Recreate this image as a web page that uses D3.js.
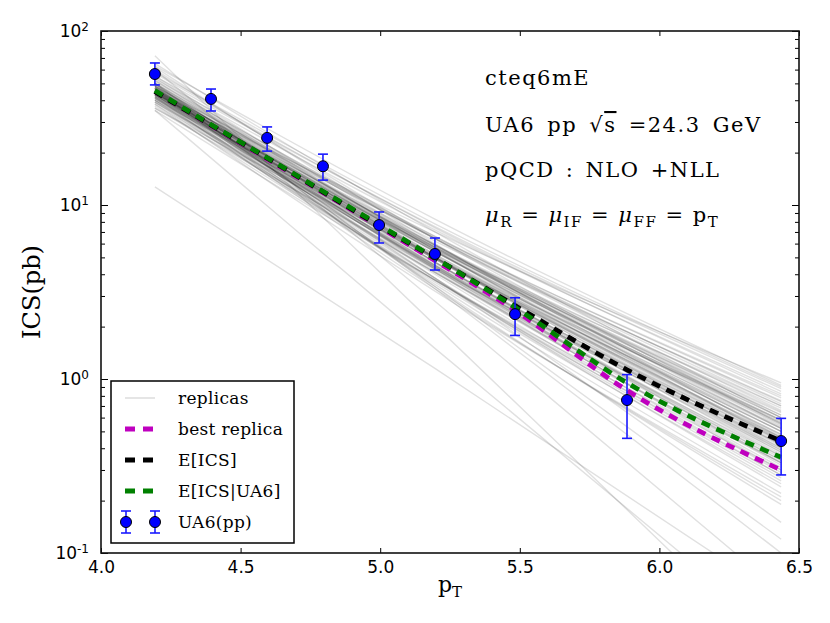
<!DOCTYPE html>
<html>
<head>
<meta charset="utf-8">
<title>ICS vs pT</title>
<script src="https://cdn.jsdelivr.net/npm/d3@7"></script>
<style>
	body, html {
		margin: 0;
		padding: 0;
		background: #fff;
	}
	.tick text, .ylab {
		font-family: "DejaVu Sans", sans-serif;
		font-size: 17px;
		fill: #000;
	}
	.serif {
		font-family: "DejaVu Serif", serif;
		fill: #000;
	}
</style>
</head>
<body>
<svg id="Chart"></svg>
<script>
	var W = 830, H = 623;
	var margin = {top: 31, right: 31, bottom: 70, left: 101};

	// UA6 pp points and error bars
	var ptX  = [4.193, 4.394, 4.595, 4.795, 4.996, 5.196, 5.483, 5.884, 6.436];
	var ua6  = [56.6, 40.7, 24.3, 16.7, 7.67, 5.23, 2.36, 0.757, 0.44];
	var ua6Hi = [65.5, 46.4, 28.1, 19.6, 9.12, 6.46, 2.93, 1.06, 0.594];
	var ua6Lo = [49.0, 34.7, 20.4, 13.9, 6.05, 4.23, 1.78, 0.456, 0.281];

	// theory curves on the same pT points
	var bestReplica = [45.0, 28.7, 18.4, 11.8, 7.5, 4.8, 2.48, 0.86, 0.30];
	var eICS        = [44.8, 28.8, 18.6, 11.9, 7.6, 4.95, 2.64, 1.13, 0.44];
	var eICSua6     = [45.5, 29.0, 18.7, 12.0, 7.7, 4.95, 2.58, 0.95, 0.355];

	// replicas: value at pT = 4.19, 5.20, 6.44
	var repX = [4.193, 5.196, 6.436];
	var replicas = [
		[46, 4.9, 0.42], [44, 4.9, 0.45], [48, 5.4, 0.50], [42, 4.4, 0.38],
		[50, 5.9, 0.58], [45, 5.5, 0.55], [40, 4.4, 0.40], [52, 5.5, 0.47],
		[43, 4.3, 0.34], [47, 5.9, 0.62], [39, 4.5, 0.44], [55, 5.9, 0.52],
		[41, 5.0, 0.50], [49, 4.7, 0.36], [44, 5.9, 0.68], [46, 4.2, 0.30],
		[38, 4.1, 0.36], [51, 6.6, 0.72], [45, 4.0, 0.28], [43, 5.4, 0.56],
		[60, 6.4, 0.55], [36, 4.3, 0.42], [48, 6.6, 0.78], [42, 3.8, 0.27],
		[47, 5.2, 0.48], [53, 7.2, 0.85], [40, 3.6, 0.25], [44, 5.6, 0.60],
		[49, 5.0, 0.40], [37, 3.7, 0.30], [58, 7.8, 0.90], [45, 4.4, 0.35],
		[41, 5.6, 0.64], [50, 4.5, 0.32], [43, 3.5, 0.22], [46, 6.5, 0.80],
		[39, 4.9, 0.52], [54, 5.5, 0.44], [35, 3.7, 0.33], [47, 3.8, 0.24],
		[44, 6.2, 0.75], [52, 6.4, 0.66], [42, 3.3, 0.20], [48, 4.3, 0.29],
		[40, 5.7, 0.70], [65, 7.0, 0.60], [45, 7.0, 0.95], [38, 3.2, 0.21],
		[43, 4.5, 0.39], [50, 5.7, 0.54], [62, 6.0, 0.46], [36, 5.0, 0.58],
		[46, 3.4, 0.19], [41, 3.7, 0.26],
		[45, 5.0, 0.46], [44, 4.7, 0.41], [46, 5.4, 0.52], [43, 5.0, 0.48],
		[47, 5.0, 0.43], [45, 4.7, 0.39], [44, 5.1, 0.50], [46, 5.6, 0.57],
		[42, 4.9, 0.46], [48, 5.1, 0.45], [45, 4.5, 0.37], [43, 5.2, 0.53],
		[47, 5.8, 0.60], [44, 4.3, 0.33], [46, 5.0, 0.44], [41, 4.6, 0.42],
		[49, 5.7, 0.56], [45, 5.8, 0.65], [43, 4.1, 0.31], [47, 4.7, 0.38],
		[50, 6.4, 0.70], [44, 5.7, 0.62], [46, 4.4, 0.34], [42, 5.4, 0.58],
		[48, 6.4, 0.74], [57, 7.4, 0.82], [63, 8.3, 0.92], [55, 7.5, 0.88],
		[40, 4.1, 0.33], [39, 3.7, 0.28],
		[12.7, 1.15, 0.055], [35, 1.5, 0.033], [72, 2.04, 0.025], [60, 2.8, 0.06],
		[50, 3.3, 0.10], [44, 3.8, 0.15], [48, 3.4, 0.12]
	];

	var xTicks = [4.0, 4.5, 5.0, 5.5, 6.0, 6.5];
	var yMajor = [0.1, 1, 10, 100];
	var yExp = ["-1", "0", "1", "2"];
	var yMinor = [];
	[0.1, 1, 10].forEach(function(dec) {
		for (var k = 2; k <= 9; k++) yMinor.push(dec * k);
	});

	var svg = d3.select("#Chart").attr("width", W).attr("height", H);

	var x = d3.scaleLinear().domain([4, 6.5]).range([margin.left, W - margin.right]);
	var y = d3.scaleLog().domain([0.1, 100]).range([H - margin.bottom, margin.top]);

	svg.append("clipPath").attr("id", "plotClip")
		.append("rect")
		.attr("x", margin.left).attr("y", margin.top)
		.attr("width", W - margin.left - margin.right)
		.attr("height", H - margin.top - margin.bottom);

	var plot = svg.append("g").attr("clip-path", "url(#plotClip)");

	var repLine = d3.line()
		.x(function(d, i) { return x(repX[i]); })
		.y(function(d) { return y(d); })
		.curve(d3.curveMonotoneX);

	plot.selectAll(".replica")
		.data(replicas)
	  .enter().append("path")
		.attr("class", "replica")
		.attr("d", repLine)
		.attr("fill", "none")
		.attr("stroke", "#000")
		.attr("stroke-opacity", 0.12)
		.attr("stroke-width", 1.4);

	var curveLine = d3.line()
		.x(function(d, i) { return x(ptX[i]); })
		.y(function(d) { return y(d); })
		.curve(d3.curveMonotoneX);

	var curves = [
		{vals: bestReplica, color: "#bf00bf"},
		{vals: eICS, color: "#000000"},
		{vals: eICSua6, color: "#008000"}
	];
	curves.forEach(function(c) {
		plot.append("path")
			.attr("d", curveLine(c.vals))
			.attr("fill", "none")
			.attr("stroke", c.color)
			.attr("stroke-width", 4.8)
			.attr("stroke-dasharray", "9,7");
	});

	// error bars + markers
	var pts = ptX.map(function(v, i) {
		return {x: v, y: ua6[i], hi: ua6Hi[i], lo: ua6Lo[i]};
	});
	var eb = plot.selectAll(".eb").data(pts).enter().append("g").attr("class", "eb");
	eb.append("line")
		.attr("x1", function(d) { return x(d.x); })
		.attr("x2", function(d) { return x(d.x); })
		.attr("y1", function(d) { return y(d.hi); })
		.attr("y2", function(d) { return y(d.lo); });
	eb.append("line")
		.attr("x1", function(d) { return x(d.x) - 5; })
		.attr("x2", function(d) { return x(d.x) + 5; })
		.attr("y1", function(d) { return y(d.hi); })
		.attr("y2", function(d) { return y(d.hi); });
	eb.append("line")
		.attr("x1", function(d) { return x(d.x) - 5; })
		.attr("x2", function(d) { return x(d.x) + 5; })
		.attr("y1", function(d) { return y(d.lo); })
		.attr("y2", function(d) { return y(d.lo); });
	eb.selectAll("line").attr("stroke", "#1a1aff").attr("stroke-width", 1.6);
	eb.append("circle")
		.attr("cx", function(d) { return x(d.x); })
		.attr("cy", function(d) { return y(d.y); })
		.attr("r", 5.5)
		.attr("fill", "#0000ff")
		.attr("stroke", "#000")
		.attr("stroke-width", 1);

	// axes, ticks pointing inwards on all four sides
	var x0 = H - margin.bottom, y0 = margin.left;
	svg.append("g").attr("transform", "translate(0," + x0 + ")")
		.call(d3.axisBottom(x).tickValues(xTicks).tickFormat(d3.format(".1f"))
			.tickSizeInner(-5).tickSizeOuter(0).tickPadding(8))
		.call(function(g) { g.select(".domain").remove(); });
	svg.append("g").attr("transform", "translate(0," + margin.top + ")")
		.call(d3.axisTop(x).tickValues(xTicks).tickFormat("")
			.tickSizeInner(-5).tickSizeOuter(0))
		.call(function(g) { g.select(".domain").remove(); });

	svg.append("g").attr("transform", "translate(" + y0 + ",0)")
		.call(d3.axisLeft(y).tickValues(yMajor).tickFormat("").tickSizeInner(-7).tickSizeOuter(0))
		.call(function(g) { g.select(".domain").remove(); });
	svg.append("g").attr("transform", "translate(" + y0 + ",0)")
		.call(d3.axisLeft(y).tickValues(yMinor).tickFormat("").tickSizeInner(-4).tickSizeOuter(0))
		.call(function(g) { g.select(".domain").remove(); });
	svg.append("g").attr("transform", "translate(" + (W - margin.right) + ",0)")
		.call(d3.axisRight(y).tickValues(yMajor).tickFormat("").tickSizeInner(-7).tickSizeOuter(0))
		.call(function(g) { g.select(".domain").remove(); });
	svg.append("g").attr("transform", "translate(" + (W - margin.right) + ",0)")
		.call(d3.axisRight(y).tickValues(yMinor).tickFormat("").tickSizeInner(-4).tickSizeOuter(0))
		.call(function(g) { g.select(".domain").remove(); });
	svg.selectAll(".tick line").attr("stroke", "#000").attr("stroke-width", 1);

	yMajor.forEach(function(v, i) {
		var t = svg.append("text").attr("class", "ylab")
			.attr("x", margin.left - 12).attr("y", y(v))
			.attr("dy", "0.35em").attr("text-anchor", "end");
		t.append("tspan").text("10");
		t.append("tspan").attr("dy", "-0.5em").attr("font-size", "12px").text(yExp[i]);
	});

	svg.append("rect")
		.attr("x", margin.left).attr("y", margin.top)
		.attr("width", W - margin.left - margin.right)
		.attr("height", H - margin.top - margin.bottom)
		.attr("fill", "none").attr("stroke", "#111").attr("stroke-width", 1.6);

	// axis titles
	svg.append("text").attr("class", "serif")
		.attr("transform", "translate(40," + ((margin.top + x0) / 2) + ") rotate(-90)")
		.attr("text-anchor", "middle")
		.attr("font-size", "24px")
		.text("ICS(pb)");
	var xl = svg.append("text").attr("class", "serif")
		.attr("x", (margin.left + W - margin.right) / 2).attr("y", 592)
		.attr("text-anchor", "middle").attr("font-size", "22px");
	xl.append("tspan").text("p");
	xl.append("tspan").attr("dy", 5).attr("font-size", "15px").text("T");

	// annotation text
	var ann = svg.append("g").attr("class", "serif").attr("font-size", "21px")
		.attr("letter-spacing", "1.5px");
	ann.append("text").attr("x", 485).attr("y", 85).text("cteq6mE");
	var t2 = ann.append("text").attr("x", 485).attr("y", 132).attr("word-spacing", "4px");
	t2.append("tspan").text("UA6 pp \u221A");
	t2.append("tspan").style("text-decoration", "overline").text("s");
	t2.append("tspan").text(" =24.3 GeV");
	ann.append("text").attr("x", 485).attr("y", 177).attr("word-spacing", "3px")
		.text("pQCD : NLO +NLL");
	var t4 = ann.append("text").attr("x", 485).attr("y", 222);
	var subs = ["R", "IF", "FF"];
	subs.forEach(function(s, i) {
		t4.append("tspan").attr("font-style", "italic").text("\u03BC");
		t4.append("tspan").attr("dy", 5).attr("font-size", "15px").text(s);
		t4.append("tspan").attr("dy", -5).text(" = ");
	});
	t4.append("tspan").text("p");
	t4.append("tspan").attr("dy", 5).attr("font-size", "15px").text("T");

	// legend
	var lg = svg.append("g");
	lg.append("rect")
		.attr("x", 111).attr("y", 381).attr("width", 183).attr("height", 162)
		.attr("fill", "#fff").attr("stroke", "#000").attr("stroke-width", 1.5);
	var legendItems = [
		{label: "replicas", type: "rep"},
		{label: "best replica", type: "dash", color: "#bf00bf"},
		{label: "E[ICS]", type: "dash", color: "#000000"},
		{label: "E[ICS|UA6]", type: "dash", color: "#008000"},
		{label: "UA6(pp)", type: "pt"}
	];
	legendItems.forEach(function(d, i) {
		var cy = 398 + i * 31;
		if (d.type === "rep") {
			lg.append("line").attr("x1", 125).attr("x2", 155).attr("y1", cy).attr("y2", cy)
				.attr("stroke", "#000").attr("stroke-opacity", 0.15).attr("stroke-width", 1.4);
		} else if (d.type === "dash") {
			lg.append("line").attr("x1", 125).attr("x2", 155).attr("y1", cy).attr("y2", cy)
				.attr("stroke", d.color).attr("stroke-width", 4.8).attr("stroke-dasharray", "10,8");
		} else {
			[126, 155].forEach(function(px) {
				lg.append("line").attr("x1", px).attr("x2", px).attr("y1", cy - 11).attr("y2", cy + 11)
					.attr("stroke", "#1a1aff").attr("stroke-width", 1.6);
				lg.append("line").attr("x1", px - 5).attr("x2", px + 5).attr("y1", cy - 11).attr("y2", cy - 11)
					.attr("stroke", "#1a1aff").attr("stroke-width", 1.6);
				lg.append("line").attr("x1", px - 5).attr("x2", px + 5).attr("y1", cy + 11).attr("y2", cy + 11)
					.attr("stroke", "#1a1aff").attr("stroke-width", 1.6);
				lg.append("circle").attr("cx", px).attr("cy", cy).attr("r", 5.5)
					.attr("fill", "#0000ff").attr("stroke", "#000").attr("stroke-width", 1);
			});
		}
		lg.append("text").attr("class", "serif").attr("x", 178).attr("y", cy + 6)
			.attr("font-size", "17px").attr("letter-spacing", "0.3px").text(d.label);
	});
</script>
</body>
</html>
